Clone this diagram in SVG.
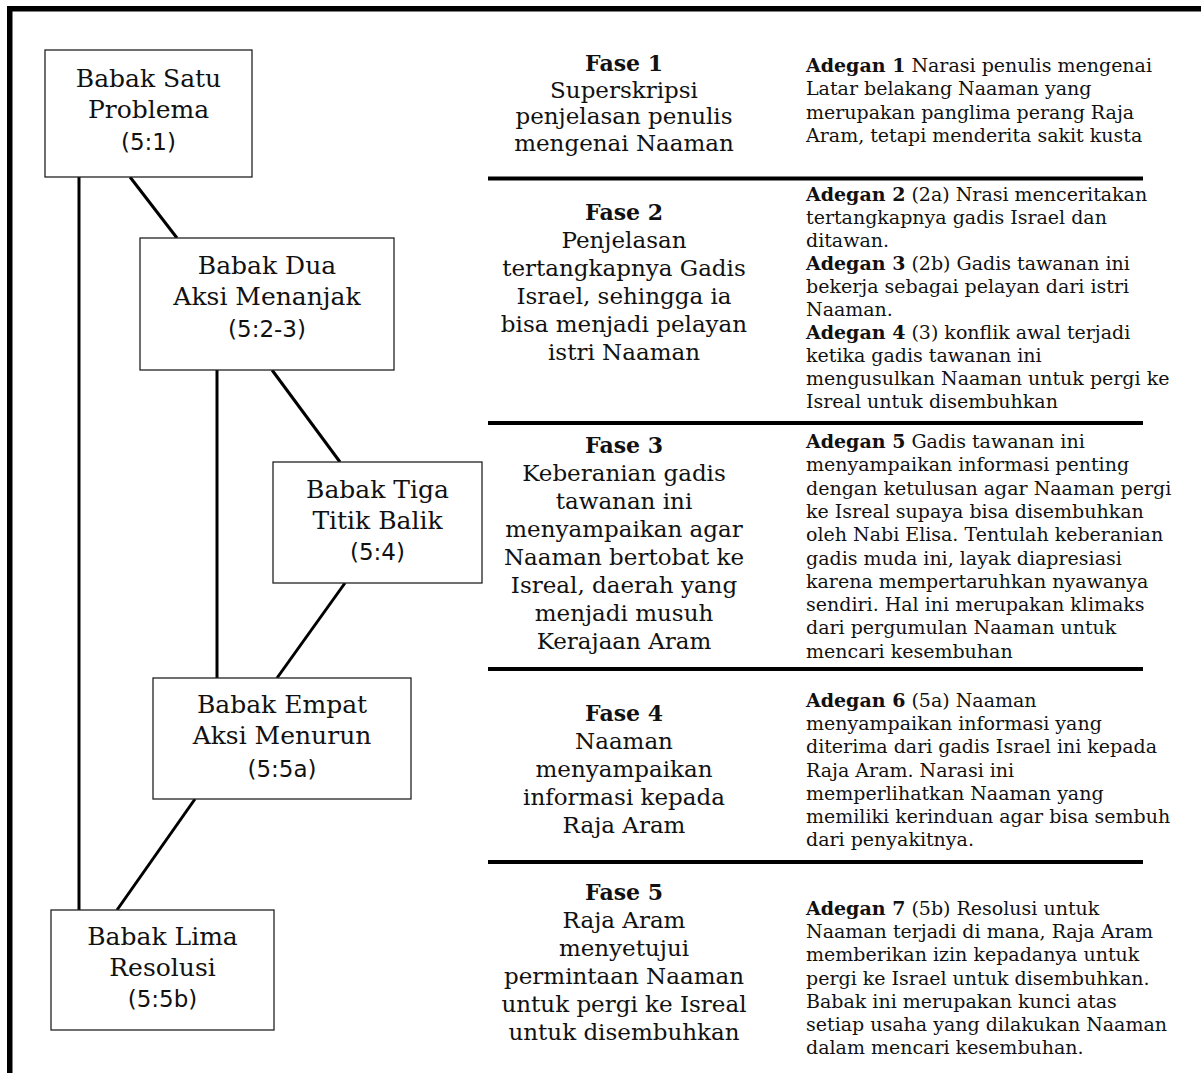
<svg xmlns="http://www.w3.org/2000/svg" width="1201" height="1073" viewBox="0 0 1201 1073">
<style>
.box{fill:#fff;stroke:#222;stroke-width:1.3}
.bt{font-family:"DejaVu Serif","Liberation Serif",serif;font-size:25px;fill:#111;text-anchor:middle}
.bn{font-family:"DejaVu Sans","Liberation Sans",sans-serif;font-size:23px;fill:#111;text-anchor:middle}
.con{stroke:#000;stroke-width:3;fill:none}
.rule{fill:#000}
.ft{font-family:"DejaVu Serif","Liberation Serif",serif;font-size:23px;fill:#111;text-anchor:middle}
.fh{font-weight:bold;font-size:22px}
.at{font-family:"DejaVu Serif","Liberation Serif",serif;font-size:19px;fill:#111}
.ah{font-weight:bold}
</style>
<rect x="0" y="0" width="1201" height="1073" fill="#fff"/>
<g id="frame">
<rect x="7" y="6" width="1194" height="5.5" fill="#000"/>
<rect x="7" y="6" width="5.5" height="1067" fill="#000"/>
</g>
<g id="connectors">
<line class="con" x1="79" y1="177" x2="79" y2="910"/>
<line class="con" x1="130" y1="177" x2="177" y2="238"/>
<line class="con" x1="217" y1="370" x2="217" y2="678"/>
<line class="con" x1="272" y1="370" x2="340" y2="462"/>
<line class="con" x1="345" y1="583" x2="277" y2="678"/>
<line class="con" x1="195" y1="799" x2="117" y2="910"/>
</g>
<g id="babak1">
<rect class="box" x="45" y="50" width="207" height="127"/>
<text class="bt" x="148.5" y="87">Babak Satu</text>
<text class="bt" x="148.5" y="118">Problema</text>
<text class="bn" x="148.5" y="150">(5:1)</text>
</g>
<g id="babak2">
<rect class="box" x="140" y="238" width="254" height="132"/>
<text class="bt" x="267" y="274">Babak Dua</text>
<text class="bt" x="267" y="305">Aksi Menanjak</text>
<text class="bn" x="267" y="337">(5:2-3)</text>
</g>
<g id="babak3">
<rect class="box" x="273" y="462" width="209" height="121"/>
<text class="bt" x="377.5" y="498">Babak Tiga</text>
<text class="bt" x="377.5" y="529">Titik Balik</text>
<text class="bn" x="377.5" y="560">(5:4)</text>
</g>
<g id="babak4">
<rect class="box" x="153" y="678" width="258" height="121"/>
<text class="bt" x="282" y="713">Babak Empat</text>
<text class="bt" x="282" y="744">Aksi Menurun</text>
<text class="bn" x="282" y="777">(5:5a)</text>
</g>
<g id="babak5">
<rect class="box" x="51" y="910" width="223" height="120"/>
<text class="bt" x="162.5" y="945">Babak Lima</text>
<text class="bt" x="162.5" y="976">Resolusi</text>
<text class="bn" x="162.5" y="1007">(5:5b)</text>
</g>
<g id="rules">
<rect class="rule" x="488" y="176.5" width="655" height="4"/>
<rect class="rule" x="488" y="421" width="655" height="4"/>
<rect class="rule" x="488" y="667" width="655" height="4"/>
<rect class="rule" x="488" y="860" width="655" height="4"/>
</g>
<g id="fase1">
<text class="ft" x="624" y="71"><tspan class="fh">Fase 1</tspan></text>
<text class="ft" x="624" y="97.5">Superskripsi</text>
<text class="ft" x="624" y="124">penjelasan penulis</text>
<text class="ft" x="624" y="150.5">mengenai Naaman</text>
</g>
<g id="adegan1">
<text class="at" x="806" y="72"><tspan class="ah">Adegan 1</tspan> Narasi penulis mengenai</text>
<text class="at" x="806" y="95.3">Latar belakang Naaman yang</text>
<text class="at" x="806" y="118.6">merupakan panglima perang Raja</text>
<text class="at" x="806" y="142">Aram, tetapi menderita sakit kusta</text>
</g>
<g id="fase2">
<text class="ft" x="624" y="220"><tspan class="fh">Fase 2</tspan></text>
<text class="ft" x="624" y="248">Penjelasan</text>
<text class="ft" x="624" y="276">tertangkapnya Gadis</text>
<text class="ft" x="624" y="304">Israel, sehingga ia</text>
<text class="ft" x="624" y="332">bisa menjadi pelayan</text>
<text class="ft" x="624" y="360">istri Naaman</text>
</g>
<g id="adegan2-4">
<text class="at" x="806" y="201"><tspan class="ah">Adegan 2</tspan> (2a) Nrasi menceritakan</text>
<text class="at" x="806" y="224">tertangkapnya gadis Israel dan</text>
<text class="at" x="806" y="247">ditawan.</text>
<text class="at" x="806" y="270"><tspan class="ah">Adegan 3</tspan> (2b) Gadis tawanan ini</text>
<text class="at" x="806" y="293">bekerja sebagai pelayan dari istri</text>
<text class="at" x="806" y="316">Naaman.</text>
<text class="at" x="806" y="339"><tspan class="ah">Adegan 4</tspan> (3) konflik awal terjadi</text>
<text class="at" x="806" y="362">ketika gadis tawanan ini</text>
<text class="at" x="806" y="385">mengusulkan Naaman untuk pergi ke</text>
<text class="at" x="806" y="408">Isreal untuk disembuhkan</text>
</g>
<g id="fase3">
<text class="ft" x="624" y="453"><tspan class="fh">Fase 3</tspan></text>
<text class="ft" x="624" y="481">Keberanian gadis</text>
<text class="ft" x="624" y="509">tawanan ini</text>
<text class="ft" x="624" y="537">menyampaikan agar</text>
<text class="ft" x="624" y="565">Naaman bertobat ke</text>
<text class="ft" x="624" y="593">Isreal, daerah yang</text>
<text class="ft" x="624" y="621">menjadi musuh</text>
<text class="ft" x="624" y="649">Kerajaan Aram</text>
</g>
<g id="adegan5">
<text class="at" x="806" y="448"><tspan class="ah">Adegan 5</tspan> Gadis tawanan ini</text>
<text class="at" x="806" y="471.3">menyampaikan informasi penting</text>
<text class="at" x="806" y="494.6">dengan ketulusan agar Naaman pergi</text>
<text class="at" x="806" y="517.9">ke Isreal supaya bisa disembuhkan</text>
<text class="at" x="806" y="541.2">oleh Nabi Elisa. Tentulah keberanian</text>
<text class="at" x="806" y="564.5">gadis muda ini, layak diapresiasi</text>
<text class="at" x="806" y="587.8">karena mempertaruhkan nyawanya</text>
<text class="at" x="806" y="611.1">sendiri. Hal ini merupakan klimaks</text>
<text class="at" x="806" y="634.4">dari pergumulan Naaman untuk</text>
<text class="at" x="806" y="657.7">mencari kesembuhan</text>
</g>
<g id="fase4">
<text class="ft" x="624" y="721"><tspan class="fh">Fase 4</tspan></text>
<text class="ft" x="624" y="749">Naaman</text>
<text class="ft" x="624" y="777">menyampaikan</text>
<text class="ft" x="624" y="805">informasi kepada</text>
<text class="ft" x="624" y="833">Raja Aram</text>
</g>
<g id="adegan6">
<text class="at" x="806" y="707"><tspan class="ah">Adegan 6</tspan> (5a) Naaman</text>
<text class="at" x="806" y="730.2">menyampaikan informasi yang</text>
<text class="at" x="806" y="753.4">diterima dari gadis Israel ini kepada</text>
<text class="at" x="806" y="776.6">Raja Aram. Narasi ini</text>
<text class="at" x="806" y="799.8">memperlihatkan Naaman yang</text>
<text class="at" x="806" y="823">memiliki kerinduan agar bisa sembuh</text>
<text class="at" x="806" y="846.2">dari penyakitnya.</text>
</g>
<g id="fase5">
<text class="ft" x="624" y="900"><tspan class="fh">Fase 5</tspan></text>
<text class="ft" x="624" y="928">Raja Aram</text>
<text class="ft" x="624" y="956">menyetujui</text>
<text class="ft" x="624" y="984">permintaan Naaman</text>
<text class="ft" x="624" y="1012">untuk pergi ke Isreal</text>
<text class="ft" x="624" y="1040">untuk disembuhkan</text>
</g>
<g id="adegan7">
<text class="at" x="806" y="915"><tspan class="ah">Adegan 7</tspan> (5b) Resolusi untuk</text>
<text class="at" x="806" y="938.2">Naaman terjadi di mana, Raja Aram</text>
<text class="at" x="806" y="961.4">memberikan izin kepadanya untuk</text>
<text class="at" x="806" y="984.6">pergi ke Israel untuk disembuhkan.</text>
<text class="at" x="806" y="1007.8">Babak ini merupakan kunci atas</text>
<text class="at" x="806" y="1031">setiap usaha yang dilakukan Naaman</text>
<text class="at" x="806" y="1054.2">dalam mencari kesembuhan.</text>
</g>
</svg>
